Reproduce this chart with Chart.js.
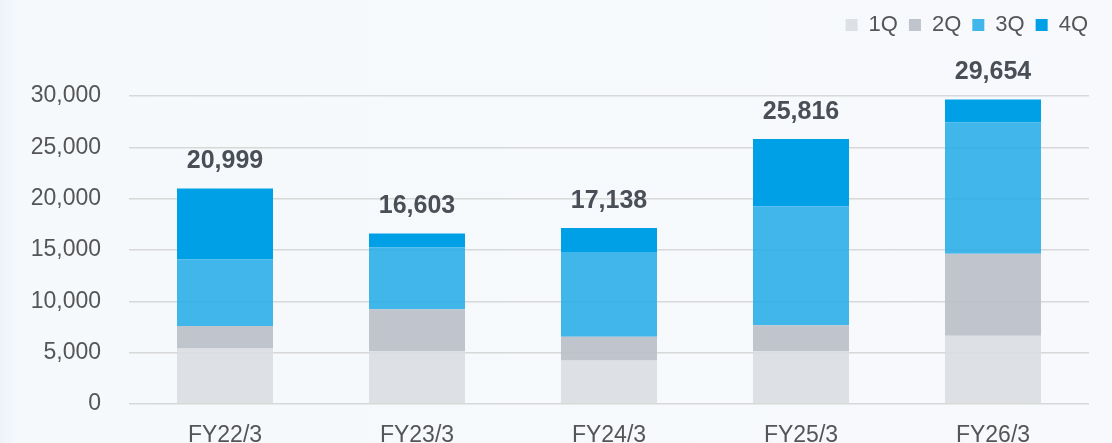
<!DOCTYPE html>
<html>
<head>
<meta charset="utf-8">
<script src="https://cdn.jsdelivr.net/npm/chart.js@4.4.0/dist/chart.umd.min.js"></script>
<style>
  html, body { margin: 0; padding: 0; background: #f6f9fc; }
  #wrap { width: 1112px; height: 443px; position: relative; background: linear-gradient(90deg, #eef3f9 0px, #f6f9fc 20px, #f7f9fc 100%); }
  canvas { display: block; }
</style>
</head>
<body>
<div id="wrap"><canvas id="c" width="1112" height="443"></canvas></div>
<script>
const categories = ['FY22/3', 'FY23/3', 'FY24/3', 'FY25/3', 'FY26/3'];
const q1 = [5400, 5170, 4230, 5170, 6650];
const q2 = [2200, 4070, 2330, 2490, 7990];
const q3 = [6500, 6040, 8240, 11600, 12770];
const q4 = [6899, 1323, 2338, 6556, 2244];
const totals = [20999, 16603, 17138, 25816, 29654];
const seriesLabels = ['1Q', '2Q', '3Q', '4Q'];
const yTicks = [0, 5000, 10000, 15000, 20000, 25000, 30000];

const colors = ['rgba(218,221,226,0.92)', 'rgba(187,191,200,0.92)', 'rgba(44,174,233,0.9)', '#00a0e6'];
const fontFamily = '"Liberation Sans", Arial, sans-serif';

const totalsPlugin = {
  id: 'totals',
  afterDatasetsDraw(chart) {
    const ctx = chart.ctx;
    const meta = chart.getDatasetMeta(3);
    const y = chart.scales.y;
    ctx.save();
    ctx.font = 'bold 25px ' + fontFamily;
    ctx.fillStyle = '#4a4f57';
    ctx.textAlign = 'center';
    ctx.textBaseline = 'middle';
    totals.forEach((t, i) => {
      const x = meta.data[i].x;
      ctx.fillText(t.toLocaleString('en-US'), x, y.getPixelForValue(t) - 27);
    });
    ctx.restore();
  }
};

const legendSpace = {
  id: 'legendSpace',
  beforeInit(chart) {
    const lg = chart.legend;
    if (!lg) return;
    const fit = lg.fit;
    lg.fit = function () { fit.call(this); this.height += 50; };
  },
  afterLayout(chart) {
    const lg = chart.legend;
    if (!lg) return;
    lg.left += 10;
    lg.right += 10;
  }
};

new Chart(document.getElementById('c'), {
  type: 'bar',
  data: {
    labels: categories,
    datasets: [q1, q2, q3, q4].map((d, i) => ({
      label: seriesLabels[i],
      data: d,
      backgroundColor: colors[i],
      borderWidth: 0,
      barPercentage: 0.5,
      categoryPercentage: 1.0
    }))
  },
  options: {
    responsive: false,
    animation: false,
    layout: { padding: { left: 0, right: 23, top: 3, bottom: 0 } },
    plugins: {
      legend: {
        position: 'top',
        align: 'end',
        labels: {
          boxWidth: 12,
          boxHeight: 12,
          padding: 11,
          color: '#555',
          font: { family: fontFamily, size: 22 }
        }
      },
      tooltip: { enabled: false }
    },
    scales: {
      x: {
        stacked: true,
        afterFit(axis) { axis.height = 39; },
        grid: { display: false },
        border: { display: false },
        ticks: { color: '#555', font: { family: fontFamily, size: 23 }, padding: 10 }
      },
      y: {
        stacked: true,
        min: 0,
        max: 30000,
        afterBuildTicks(axis) { axis.ticks = yTicks.map(v => ({ value: v })); },
        afterFit(axis) { axis.width = 129; },
        grid: { color: '#d8d8d8', lineWidth: 1.5, drawTicks: true, tickLength: 28, tickColor: 'rgba(0,0,0,0)' },
        border: { display: false },
        ticks: {
          color: '#555',
          padding: 0,
          font: { family: fontFamily, size: 23 },
          callback: v => v.toLocaleString('en-US')
        }
      }
    }
  },
  plugins: [totalsPlugin, legendSpace]
});
</script>
</body>
</html>
